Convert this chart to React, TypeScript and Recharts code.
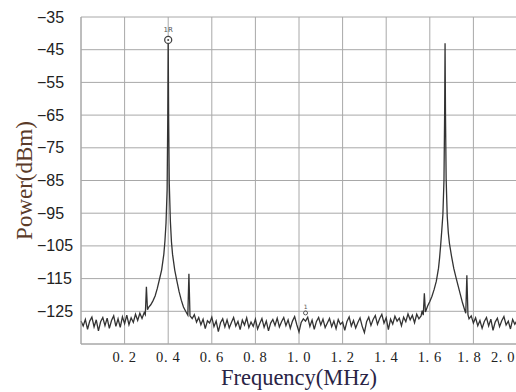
import React from 'react';
import { LineChart, Line, XAxis, YAxis, CartesianGrid, ReferenceDot, Label } from 'recharts';

const freqMHz: number[] = [
  0.00, 0.01, 0.02, 0.03, 0.04, 0.05, 0.06, 0.07, 0.08, 0.09,
  0.10, 0.11, 0.12, 0.13, 0.14, 0.15, 0.16, 0.17, 0.18, 0.19,
  0.20, 0.21, 0.22, 0.23, 0.24, 0.25, 0.26, 0.27, 0.28, 0.29,
  0.295, 0.30, 0.305, 0.31, 0.32, 0.33, 0.34, 0.35, 0.36, 0.37,
  0.38, 0.385, 0.39, 0.395, 0.398, 0.40, 0.402, 0.405, 0.41, 0.415,
  0.42, 0.43, 0.44, 0.45, 0.46, 0.47, 0.48, 0.49, 0.495, 0.50,
  0.51, 0.52, 0.53, 0.54, 0.55, 0.56, 0.57, 0.58, 0.59, 0.60,
  0.61, 0.62, 0.63, 0.64, 0.65, 0.66, 0.67, 0.68, 0.69, 0.70,
  0.71, 0.72, 0.73, 0.74, 0.75, 0.76, 0.77, 0.78, 0.79, 0.80,
  0.81, 0.82, 0.83, 0.84, 0.85, 0.86, 0.87, 0.88, 0.89, 0.90,
  0.91, 0.92, 0.93, 0.94, 0.95, 0.96, 0.97, 0.98, 0.99, 1.00,
  1.01, 1.02, 1.03, 1.04, 1.05, 1.06, 1.07, 1.08, 1.09, 1.10,
  1.11, 1.12, 1.13, 1.14, 1.15, 1.16, 1.17, 1.18, 1.19, 1.20,
  1.21, 1.22, 1.23, 1.24, 1.25, 1.26, 1.27, 1.28, 1.29, 1.30,
  1.31, 1.32, 1.33, 1.34, 1.35, 1.36, 1.37, 1.38, 1.39, 1.40,
  1.41, 1.42, 1.43, 1.44, 1.45, 1.46, 1.47, 1.48, 1.49, 1.50,
  1.51, 1.52, 1.53, 1.54, 1.55, 1.56, 1.565, 1.57, 1.575, 1.58,
  1.59, 1.60, 1.61, 1.62, 1.63, 1.64, 1.645, 1.65, 1.655, 1.66,
  1.665, 1.668, 1.67, 1.672, 1.675, 1.68, 1.685, 1.69, 1.70, 1.71,
  1.72, 1.73, 1.74, 1.75, 1.76, 1.765, 1.77, 1.775, 1.78, 1.79,
  1.80, 1.81, 1.82, 1.83, 1.84, 1.85, 1.86, 1.87, 1.88, 1.89,
  1.90, 1.91, 1.92, 1.93, 1.94, 1.95, 1.96, 1.97, 1.98, 1.99,
  2.00,
];

const powerDbm: number[] = [
  -128.0, -129.5, -127.5, -130.5, -128.0, -126.8, -129.8, -127.6, -131.0, -128.2,
  -126.9, -129.4, -127.1, -130.2, -127.8, -126.4, -129.6, -127.3, -129.9, -126.7,
  -128.8, -126.2, -129.1, -127.0, -128.4, -125.9, -127.8, -125.6, -127.2, -125.4,
  -126.0, -117.5, -124.5, -123.8, -123.0, -121.8, -120.3, -118.0, -115.2, -112.3,
  -107.5, -103.5, -98.0, -88.0, -66.0, -42.0, -66.0, -86.0, -97.5, -103.8,
  -107.6, -112.4, -115.8, -119.0, -121.6, -123.7, -125.0, -126.2, -113.5, -126.4,
  -127.2, -126.0, -128.3, -126.9, -129.1, -127.4, -130.3, -127.9, -128.6, -126.8,
  -129.7, -128.0, -131.2, -128.5, -127.3, -129.8, -127.6, -130.1, -128.4, -126.9,
  -129.5, -128.1, -130.6, -127.7, -129.2, -127.0, -130.0, -128.3, -129.6, -127.4,
  -130.4, -128.7, -127.2, -129.9, -128.0, -131.0, -128.6, -127.5, -129.3, -127.1,
  -129.8, -128.2, -126.9, -129.4, -127.6, -130.2, -128.0, -126.6, -129.1, -131.3,
  -128.4, -127.3, -128.0, -126.8, -129.6, -127.7, -130.5, -128.1, -126.9, -129.2,
  -127.4, -130.0, -128.6, -127.2, -129.7, -128.0, -130.3, -127.5, -129.0, -128.3,
  -130.8, -128.1, -126.7, -129.5, -127.8, -130.1, -128.4, -127.0, -129.6, -131.5,
  -128.2, -126.8, -129.3, -127.5, -126.3, -129.0, -127.2, -125.9, -128.6, -127.0,
  -130.6, -127.4, -128.9, -126.5, -128.0, -127.1, -129.4, -126.8, -128.2, -125.8,
  -127.6, -126.2, -128.5, -125.9, -127.3, -126.4, -124.8, -126.2, -119.5, -125.2,
  -123.4, -122.0, -120.4, -118.3, -115.8, -111.8, -108.6, -104.6, -100.2, -95.5,
  -85.0, -65.0, -43.0, -65.0, -84.5, -96.0, -101.0, -104.2, -108.3, -111.9,
  -114.6, -117.2, -119.8, -122.4, -124.6, -125.6, -114.0, -126.0, -127.3, -126.4,
  -128.6, -127.0, -129.4, -127.8, -130.2, -128.1, -126.9, -129.5, -127.4, -130.8,
  -128.3, -127.1, -129.7, -127.9, -126.6, -129.2, -128.0, -130.4, -127.5, -129.0,
  -127.8,
];

const xTicks: number[] = [0, 0.2, 0.4, 0.6, 0.8, 1.0, 1.2, 1.4, 1.6, 1.8, 2.0];
const yTicks: number[] = [-135, -125, -115, -105, -95, -85, -75, -65, -55, -45, -35];

const markerMain = { f: 0.4, p: -42, label: '1R' };
const markerAux = { f: 1.03, p: -125.5, label: '1' };

const data = freqMHz.map((f, i) => ({ f, p: powerDbm[i] }));

const YTick = (props: any) => {
  const { x, y, payload } = props;
  if (payload.value === -135) return null;
  const txt = String(payload.value).replace('-', '\u2212');
  return (
    <text x={x - 44} y={y} dy={5.5} textAnchor="start" fontFamily="Liberation Sans, Arial, sans-serif" fontSize={16} fill="#222">
      {txt}
    </text>
  );
};

const XTick = (props: any) => {
  const { x, y, payload } = props;
  if (payload.value === 0) return null;
  const txt = payload.value.toFixed(1).replace('.', '. ');
  let shift = 0;
  if (payload.value === 1.8) shift = -4;
  if (payload.value === 2.0) shift = -14;
  return (
    <text x={x + shift} y={y} dy={18} textAnchor="middle" fontFamily="Liberation Serif, Times New Roman, serif" fontSize={14.5} fill="#222" letterSpacing={0.6}>
      {txt}
    </text>
  );
};

const DiamondMarker = (props: any) => {
  const { cx, cy } = props;
  return (
    <g>
      <circle cx={cx} cy={cy} r={3.5} fill="#fff" stroke="#444" strokeWidth={1.3} />
      <circle cx={cx} cy={cy} r={1} fill="#444" />
      <text x={cx} y={cy - 8} textAnchor="middle" fontSize={7} fill="#555" fontFamily="DejaVu Sans, sans-serif">{markerMain.label}</text>
    </g>
  );
};

const SmallMarker = (props: any) => {
  const { cx, cy } = props;
  return (
    <g>
      <circle cx={cx} cy={cy} r={2} fill="none" stroke="#555" strokeWidth={1} />
      <text x={cx} y={cy - 4} textAnchor="middle" fontSize={6} fill="#555" fontFamily="DejaVu Sans, sans-serif">{markerAux.label}</text>
    </g>
  );
};

export default function App() {
  return (
    <div style={{ position: 'absolute', left: 0, top: 0, width: 516, height: 392, overflow: 'hidden', background: '#fff' }}>
      <LineChart width={520} height={392} data={data} margin={{ top: 17, right: 3, bottom: 0, left: 0 }}>
        <CartesianGrid stroke="#a8a8a8" strokeWidth={1} />
        <XAxis
          dataKey="f"
          type="number"
          domain={[0, 2.0]}
          ticks={xTicks}
          interval={0}
          height={48}
          tickSize={0}
          tickMargin={0}
          tickLine={false}
          axisLine={{ stroke: '#a8a8a8' }}
          tick={<XTick />}
        >
          <Label
            content={(p: any) => {
              const vb = p.viewBox;
              return (
                <text x={vb.x + vb.width / 2} y={vb.y + 41} textAnchor="middle" fontFamily="Liberation Serif, Times New Roman, serif" fontSize={22.5} fill="#2a2445">
                  Frequency(MHz)
                </text>
              );
            }}
          />
        </XAxis>
        <YAxis
          type="number"
          domain={[-135, -35]}
          ticks={yTicks}
          interval={0}
          width={81}
          tickSize={0}
          tickMargin={0}
          tickLine={false}
          axisLine={{ stroke: '#a8a8a8' }}
          tick={<YTick />}
        >
          <Label
            content={(p: any) => {
              const vb = p.viewBox;
              const cx = vb.x + 24;
              const cy = vb.y + vb.height / 2;
              return (
                <text x={cx} y={cy} transform={`rotate(-90 ${cx} ${cy})`} dy={8} textAnchor="middle" fontFamily="Liberation Serif, Times New Roman, serif" fontSize={23} fill="#5a3a28">
                  Power(dBm)
                </text>
              );
            }}
          />
        </YAxis>
        <Line type="linear" dataKey="p" stroke="#333" strokeWidth={1.3} dot={false} isAnimationActive={false} />
        <ReferenceDot x={markerMain.f} y={markerMain.p} shape={<DiamondMarker />} />
        <ReferenceDot x={markerAux.f} y={markerAux.p} shape={<SmallMarker />} />
      </LineChart>
    </div>
  );
}
